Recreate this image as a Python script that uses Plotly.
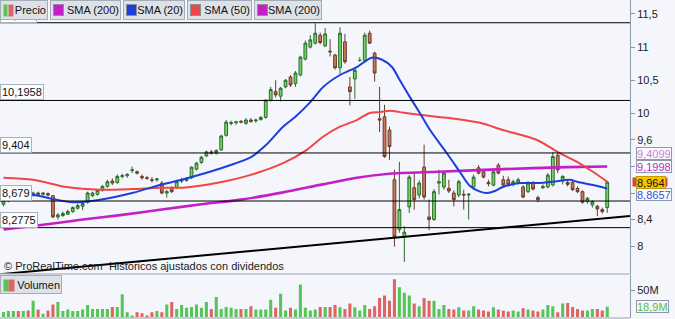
import plotly.graph_objects as go

# ---------------- data ----------------
opens = [8.63, 8.68, 8.70, 8.72, 8.71, 8.75, 8.76, 8.80, 8.78, 8.79,
         8.76, 8.44, 8.46, 8.48, 8.52, 8.57, 8.60, 8.66, 8.76, 8.78,
         8.84, 8.90, 8.98, 8.96, 9.05, 9.06, 9.14, 9.12, 9.05, 9.03,
         9.00, 9.00, 8.95, 8.80, 8.87, 8.88, 8.98, 8.99, 9.03, 9.16,
         9.26, 9.36, 9.42, 9.40, 9.45, 9.67, 9.85, 9.86, 9.88, 9.85,
         9.90, 9.89, 9.91, 9.94, 10.20, 10.33, 10.26, 10.40, 10.55, 10.45,
         10.58, 10.82, 11.00, 11.06, 11.18, 11.02, 10.94, 10.88, 10.69, 11.08,
         10.40, 10.52, 10.80, 10.80, 11.21, 10.91, 9.92, 9.95, 9.75, 9.00,
         8.25, 8.14, 8.59, 8.88, 8.77, 9.19, 8.44, 8.40, 8.95, 8.89,
         8.87, 8.80, 8.77, 8.78, 8.77, 8.89, 9.18, 9.12, 8.96, 8.92,
         9.22, 9.00, 9.00, 8.93, 8.96, 8.89, 8.82, 8.95, 8.73, 8.88,
         8.89, 8.92, 9.37, 8.98, 8.96, 8.96, 8.87, 8.82, 8.67, 8.62,
         8.60, 8.55, 8.58]
highs = [8.70, 8.72, 8.74, 8.74, 8.77, 8.77, 8.82, 8.82, 8.81, 8.81,
         8.77, 8.50, 8.52, 8.55, 8.60, 8.64, 8.68, 8.82, 8.82, 8.86,
         8.92, 9.00, 9.02, 9.08, 9.09, 9.10, 9.20, 9.14, 9.08, 9.06,
         9.04, 9.03, 8.98, 8.85, 8.90, 8.99, 9.03, 9.04, 9.20, 9.27,
         9.36, 9.44, 9.45, 9.46, 9.68, 9.90, 9.89, 9.89, 9.90, 9.93,
         9.93, 9.92, 9.96, 10.22, 10.40, 10.50, 10.40, 10.52, 10.58, 10.64,
         10.87, 11.10, 11.18, 11.36, 11.22, 11.29, 11.12, 10.90, 11.30, 11.20,
         10.55, 10.68, 10.85, 11.22, 11.25, 10.93, 10.40, 10.13, 9.80, 9.15,
         9.27, 8.30, 9.07, 9.10, 8.99, 9.53, 8.70, 8.86, 9.15, 9.13,
         9.00, 8.84, 9.00, 8.85, 8.80, 9.08, 9.22, 9.15, 9.00, 9.14,
         9.25, 9.06, 9.05, 9.00, 9.03, 8.92, 8.98, 8.98, 8.76, 8.93,
         9.10, 9.42, 9.42, 9.07, 8.99, 8.99, 8.90, 8.84, 8.74, 8.69,
         8.62, 8.58, 8.98]
lows = [8.60, 8.66, 8.68, 8.69, 8.70, 8.72, 8.75, 8.77, 8.76, 8.75,
        8.42, 8.40, 8.44, 8.47, 8.50, 8.55, 8.54, 8.64, 8.74, 8.76,
        8.82, 8.88, 8.92, 8.94, 9.02, 9.03, 9.10, 9.08, 9.00, 9.00,
        8.96, 8.97, 8.78, 8.73, 8.80, 8.86, 8.95, 8.97, 9.01, 9.14,
        9.24, 9.34, 9.38, 9.38, 9.44, 9.65, 9.82, 9.83, 9.85, 9.83,
        9.86, 9.86, 9.89, 9.92, 10.18, 10.24, 10.18, 10.38, 10.40, 10.40,
        10.56, 10.80, 10.98, 11.04, 11.04, 11.00, 10.86, 10.66, 10.60, 10.75,
        10.12, 10.22, 10.78, 10.78, 11.05, 10.48, 9.72, 9.33, 9.30, 7.99,
        8.20, 7.76, 8.50, 8.55, 8.72, 8.70, 8.24, 8.38, 8.78, 8.85,
        8.80, 8.60, 8.74, 8.55, 8.40, 8.86, 9.08, 9.02, 8.90, 8.90,
        9.08, 8.90, 8.90, 8.90, 8.93, 8.72, 8.80, 8.84, 8.66, 8.86,
        8.87, 8.90, 9.10, 8.93, 8.90, 8.83, 8.80, 8.64, 8.64, 8.58,
        8.45, 8.49, 8.50]
closes = [8.68, 8.70, 8.72, 8.71, 8.75, 8.74, 8.80, 8.78, 8.80, 8.77,
          8.44, 8.47, 8.49, 8.52, 8.58, 8.61, 8.64, 8.80, 8.80, 8.84,
          8.90, 8.97, 8.95, 9.05, 9.06, 9.08, 9.15, 9.10, 9.03, 9.02,
          8.99, 9.01, 8.80, 8.82, 8.82, 8.97, 9.00, 9.02, 9.19, 9.25,
          9.34, 9.42, 9.40, 9.44, 9.66, 9.87, 9.86, 9.87, 9.87, 9.90,
          9.88, 9.90, 9.94, 10.20, 10.36, 10.28, 10.38, 10.50, 10.43, 10.61,
          10.85, 11.06, 11.11, 11.21, 11.07, 11.20, 10.93, 10.69, 11.21, 10.78,
          10.33, 10.65, 10.80, 11.18, 11.06, 10.61, 9.90, 9.35, 9.50, 8.14,
          8.55, 8.21, 9.04, 8.70, 8.95, 8.74, 8.40, 8.82, 8.97, 9.10,
          8.83, 8.70, 8.97, 8.77, 8.78, 9.04, 9.10, 9.04, 8.94, 9.12,
          9.10, 8.92, 8.93, 8.97, 9.00, 8.74, 8.95, 8.86, 8.70, 8.90,
          9.07, 9.35, 9.15, 9.05, 8.93, 8.85, 8.82, 8.66, 8.72, 8.67,
          8.56, 8.52, 8.964]
volumes = [9.3, 11, 11, 11, 11, 12, 30, 14, 6, 12,
           23, 28, 11, 14, 11, 11, 14, 22, 15, 15,
           15, 15, 18.5, 18.5, 42, 9, 3, 9, 7, 3,
           9, 11, 9, 23, 28, 15, 22, 17, 18.5, 23,
           17, 28, 15, 37, 15, 18.5, 17, 15, 15, 15,
           20, 14, 14, 14, 32, 17, 43, 12, 17, 14,
           60, 17, 12, 14, 18.5, 18.5, 18.5, 22, 18, 15,
           25, 18, 12, 22, 15, 20, 35, 40, 30, 70,
           55, 45, 40, 25, 20, 35, 30, 30, 15, 22,
           15, 14, 18, 12, 12, 20, 14, 12, 10, 18,
           14, 12, 10, 12, 10, 16, 14, 12, 10, 14,
           22, 20, 9, 25, 26, 18.5, 15, 12, 12, 15,
           15, 12, 18.9]
days = list(range(len(closes)))

sma20_x = [0, 6, 10, 14, 19.5, 26, 31.6, 36, 43, 50, 53, 56.5, 59, 62, 64.6, 68,
           71.4, 74.4, 76.5, 78.5, 80.1, 82.1, 84.1, 86.2, 89.6, 92.2, 94.2, 96.3,
           97.7, 99.3, 100.9, 104.3, 107.8, 111, 114.4, 115.9, 119.1, 122]
sma20_y = [8.74, 8.77, 8.71, 8.66, 8.70, 8.80, 8.92, 9.00, 9.15, 9.34, 9.52, 9.80,
           9.95, 10.17, 10.40, 10.58, 10.70, 10.84, 10.81, 10.70, 10.50, 10.25, 10.01,
           9.75, 9.40, 9.12, 8.91, 8.82, 8.80, 8.83, 8.89, 8.95, 8.95, 8.97, 9.00,
           8.97, 8.92, 8.8657]
sma50_x = [0, 6, 12.8, 19.5, 26, 31.6, 36.3, 43, 49.8, 56.5, 61.3, 64.5, 68, 71.4,
           74, 76.1, 78.1, 80.1, 84.1, 90.2, 96.3, 100.9, 107.8, 112.4, 115.9, 119.1, 122]
sma50_y = [9.03, 9.00, 8.89, 8.85, 8.86, 8.88, 8.88, 8.95, 9.07, 9.25, 9.45, 9.645,
           9.80, 9.90, 10.007, 10.02, 10.04, 10.02, 9.98, 9.93, 9.86, 9.75, 9.60,
           9.40, 9.27, 9.12, 8.97]
sma200_x = [0, 8, 16, 24, 32, 40, 48, 56.5, 64.5, 71.4, 78, 88, 101, 114, 122]
sma200_y = [8.25, 8.32, 8.40, 8.47, 8.55, 8.63, 8.70, 8.81, 8.93, 9.03, 9.09, 9.12,
            9.16, 9.19, 9.1998]

trend_x = [-0.7, 126.6]
trend_y = [7.575, 8.455]

levels = [11.368, 10.1958, 9.404, 8.679, 8.2775]
level_labels = ["11,368", "10,1958", "9,404", "8,679", "8,2775"]

price_ticks = [8, 8.4, 8.8, 9.2, 9.6, 10, 10.5, 11, 11.5]
price_ticktext = ["8", "8,4", "", "", "9,6", "10", "10,5", "11", "11,5"]
vol_ticks = [50]
vol_ticktext = ["50M"]

last_price = closes[-1]
last_sma20 = sma20_y[-1]
last_sma200 = sma200_y[-1]
last_sma50 = sma50_y[-1]
other_sma200 = 9.4099
last_volume = volumes[-1]

# ---------------- styling ----------------
FONT = "Liberation Sans, Arial, sans-serif"
BG = "#f4f6fc"
UP_FILL, UP_LINE = "#6fd85c", "#2c6a2c"
DN_FILL, DN_LINE = "#c97a5d", "#6a3a2a"
VOL_UP, VOL_DN = "#55c655", "#e06464"
W, H = 675, 319
PLOT_W = 630.0


def px_x(px):
    return px / PLOT_W


def px_y(py):
    return 1 - py / H


fig = go.Figure()

fig.add_trace(go.Candlestick(
    x=days, open=opens, high=highs, low=lows, close=closes,
    increasing=dict(fillcolor=UP_FILL, line=dict(color=UP_LINE, width=1)),
    decreasing=dict(fillcolor=DN_FILL, line=dict(color=DN_LINE, width=1)),
    whiskerwidth=0, xaxis="x", yaxis="y", showlegend=False, hoverinfo="skip"))

fig.add_trace(go.Scatter(x=sma200_x, y=sma200_y, mode="lines",
                         line=dict(color="#c21fc6", width=2.6, shape="spline", smoothing=0.8),
                         xaxis="x", yaxis="y", showlegend=False, hoverinfo="skip"))
fig.add_trace(go.Scatter(x=sma50_x, y=sma50_y, mode="lines",
                         line=dict(color="#f04646", width=2, shape="spline", smoothing=0.8),
                         xaxis="x", yaxis="y", showlegend=False, hoverinfo="skip"))
fig.add_trace(go.Scatter(x=sma20_x, y=sma20_y, mode="lines",
                         line=dict(color="#1d3fd8", width=2, shape="spline", smoothing=0.8),
                         xaxis="x", yaxis="y", showlegend=False, hoverinfo="skip"))
fig.add_trace(go.Scatter(x=trend_x, y=trend_y, mode="lines",
                         line=dict(color="#000000", width=2),
                         xaxis="x", yaxis="y", showlegend=False, hoverinfo="skip"))

vol_colors = [VOL_UP if c >= o else VOL_DN for o, c in zip(opens, closes)]
fig.add_trace(go.Bar(x=days, y=volumes, marker=dict(color=vol_colors, line=dict(width=0)),
                     width=0.62, xaxis="x2", yaxis="y2", showlegend=False, hoverinfo="skip"))

xr = [-0.7, 126.6]
price_dom = [1 - 273.5 / H, 1]
vol_dom = [1.0 / H, 1 - 274.5 / H]
price_range = [7.586, 11.711]
vol_range = [-1.85, 78.7]

axis_line = "#8c99a6"
fig.update_layout(
    width=W, height=H, autosize=False,
    margin=dict(l=0, r=W - PLOT_W, t=0, b=0),
    paper_bgcolor=BG, plot_bgcolor=BG,
    font=dict(family=FONT, size=11, color="#222222"),
    showlegend=False, boxgap=0.2,
    xaxis=dict(range=xr, domain=[0, 1], showticklabels=False, showgrid=False, zeroline=False,
               rangeslider=dict(visible=False), ticks=""),
    xaxis2=dict(range=xr, domain=[0, 1], anchor="y2", matches="x", showticklabels=False,
                showgrid=False, zeroline=False, ticks=""),
    yaxis=dict(domain=price_dom, range=price_range, side="right", showgrid=False, zeroline=False,
               tickvals=price_ticks, ticktext=price_ticktext, ticks="outside", ticklen=4,
               tickcolor=axis_line, showline=True, linecolor=axis_line, linewidth=1,
               tickfont=dict(size=11, color="#222"), anchor="x"),
    yaxis2=dict(domain=vol_dom, range=vol_range, side="right", showgrid=False, zeroline=False,
                tickvals=vol_ticks, ticktext=vol_ticktext, ticks="outside", ticklen=4,
                tickcolor=axis_line, showline=True, linecolor=axis_line, linewidth=1,
                tickfont=dict(size=11, color="#222"), anchor="x2"),
)

shapes = []
for lv in levels:
    shapes.append(dict(type="line", xref="paper", x0=0, x1=1, yref="y", y0=lv, y1=lv,
                       line=dict(color="#000000", width=1), layer="above"))
# panel separators
shapes.append(dict(type="line", xref="paper", x0=0, x1=1, yref="paper", y0=px_y(274), y1=px_y(274),
                   line=dict(color="#9aa4ae", width=1)))
shapes.append(dict(type="line", xref="paper", x0=0, x1=1, yref="paper", y0=px_y(318), y1=px_y(318),
                   line=dict(color="#9aa4ae", width=1)))
fig.update_layout(shapes=shapes)

ann = []
# left level labels
for lv, txt in zip(levels, level_labels):
    ann.append(dict(xref="paper", x=0, xanchor="left", yref="y", y=lv, yanchor="bottom",
                    text=txt, showarrow=False, font=dict(size=11, color="#111"),
                    bgcolor="#fbfcfe", bordercolor="#a9b1ba", borderwidth=1, borderpad=1))

# copyright
ann.append(dict(xref="paper", x=px_x(2), xanchor="left", yref="paper", y=px_y(266), yanchor="middle",
                text="© ProRealTime.com  Historicos ajustados con dividendos", showarrow=False,
                font=dict(size=11, color="#1a1a1a")))

# top legend bar: boxes then icons (drawn later = on top)
legend_items = [("Precio", 0, 48, None),
                ("SMA (200)", 50, 121, "#c21fc6"),
                ("SMA (20)", 123, 185, "#1d3fd8"),
                ("SMA (50)", 187, 252, "#f04646"),
                ("SMA (200)", 254, 322, "#c21fc6")]
for txt, x0, x1, col in legend_items:
    ann.append(dict(xref="paper", x=px_x(x0), xanchor="left", yref="paper", y=1, yanchor="top",
                    text=txt, showarrow=False, align="right", width=x1 - x0 - 4, height=16,
                    font=dict(size=11, color="#111"), bgcolor="#dde2e9",
                    bordercolor="#a4acb5", borderwidth=1, borderpad=1))
for txt, x0, x1, col in legend_items:
    if col is None:
        ann.append(dict(xref="paper", x=px_x(x0 + 3), xanchor="left", yref="paper", y=px_y(4),
                        yanchor="top", text=" ", showarrow=False, width=3, height=11,
                        bgcolor=VOL_UP, borderpad=0))
        ann.append(dict(xref="paper", x=px_x(x0 + 8), xanchor="left", yref="paper", y=px_y(4),
                        yanchor="top", text=" ", showarrow=False, width=4, height=11,
                        bgcolor=VOL_DN, borderpad=0))
    else:
        ann.append(dict(xref="paper", x=px_x(x0 + 3), xanchor="left", yref="paper", y=px_y(4),
                        yanchor="top", text=" ", showarrow=False, width=9, height=10,
                        bgcolor=col, bordercolor="#8a8f99", borderwidth=1, borderpad=0))

# volume legend
ann.append(dict(xref="paper", x=0, xanchor="left", yref="paper", y=px_y(275), yanchor="top",
                text="Volumen", showarrow=False, align="right", width=58, height=15,
                font=dict(size=11, color="#111"), bgcolor="#dde2e9",
                bordercolor="#a4acb5", borderwidth=1, borderpad=1))
ann.append(dict(xref="paper", x=px_x(3), xanchor="left", yref="paper", y=px_y(279), yanchor="top",
                text=" ", showarrow=False, width=4, height=11, bgcolor=VOL_UP, borderpad=0))
ann.append(dict(xref="paper", x=px_x(8), xanchor="left", yref="paper", y=px_y(279), yanchor="top",
                text=" ", showarrow=False, width=5, height=11, bgcolor=VOL_DN, borderpad=0))

# right value labels
RX = px_x(636)


def rlabel(val, txt, color, bg, yshift=0, border="#8d99a6"):
    return dict(xref="paper", x=RX, xanchor="left", yref="y", y=val, yanchor="middle",
                yshift=yshift, text=txt, showarrow=False, font=dict(size=11, color=color),
                height=11, bgcolor=bg, bordercolor=border, borderwidth=1, borderpad=0)


ann.append(rlabel(other_sma200, "9,4099", "#c77fd6", "#fbfcfe", yshift=-1))
ann.append(rlabel(last_sma200, "9,1998", "#c21fc6", "#fbfcfe"))
ann.append(rlabel(last_sma20, "8,8657", "#2f55d8", "#fbfcfe", yshift=-6))
ann.append(dict(xref="paper", x=px_x(632), xanchor="left", yref="y", y=last_sma50, yanchor="middle",
                text=" ", showarrow=False, width=34, height=8,
                bgcolor="#e04040", borderpad=0))
ann.append(rlabel(last_price, "8,964", "#111111", "#f5c400", border="#c89a00"))
ann.append(dict(xref="paper", x=RX, xanchor="left", yref="y2", y=last_volume, yanchor="middle",
                text="18,9M", showarrow=False, font=dict(size=11, color="#55bb55"),
                height=11, bgcolor="#f4f8f4", bordercolor="#8d99a6", borderwidth=1, borderpad=0))

fig.update_layout(annotations=ann)

fig.write_html("out.html")
